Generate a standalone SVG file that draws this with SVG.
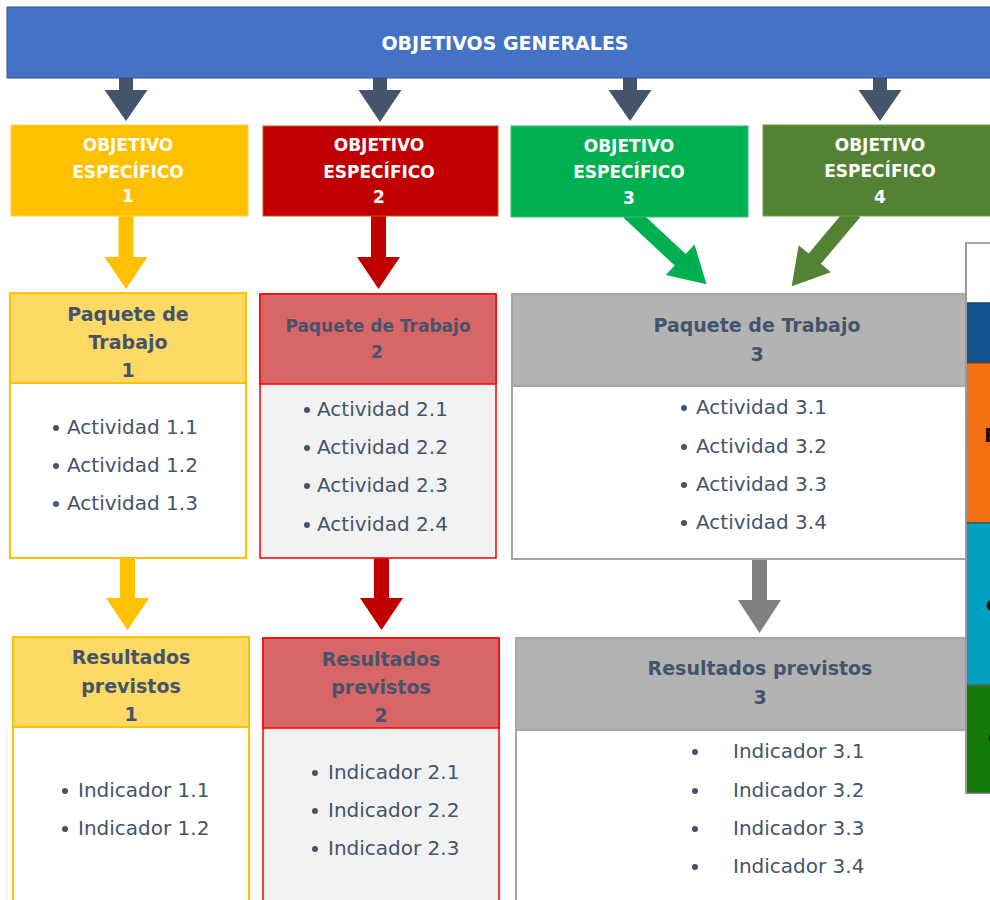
<svg xmlns="http://www.w3.org/2000/svg" width="990" height="900" viewBox="0 0 990 900">
<style>
.ot{font-family:"DejaVu Sans",Verdana,sans-serif;font-weight:bold;font-size:17px;fill:#ffffff;text-anchor:middle}
.ht{font-family:"DejaVu Sans",Verdana,sans-serif;font-weight:bold;font-size:19px;fill:#44546A;text-anchor:middle}
.it{font-family:"DejaVu Sans",Verdana,sans-serif;font-size:20px;fill:#44546A}
.bu{fill:#44546A}
.st{font-family:"DejaVu Sans",Verdana,sans-serif;font-weight:bold;font-size:20px;fill:#111111}
</style>
<rect width="990" height="900" fill="#ffffff"/>
<g id="connectors">
  <polygon fill="#44546A" points="119,77 133,77 133,90 147.5,90 126,121 104.5,90 119,90"/>
  <polygon fill="#44546A" points="373,77 387,77 387,90 401.5,90 380,122 358.5,90 373,90"/>
  <polygon fill="#44546A" points="623,77 637,77 637,90 651.5,90 630,121 608.5,90 623,90"/>
  <polygon fill="#44546A" points="873,77 887,77 887,90 901.5,90 880,121 858.5,90 873,90"/>
  <polygon fill="#FFC000" points="118.5,214 133.5,214 133.5,257 147.5,257 126,289 104.5,257 118.5,257"/>
  <polygon fill="#C00000" points="371,214 386,214 386,257 400,257 378.5,289 357,257 371,257"/>
  <g transform="translate(629,212) rotate(-47)"><polygon fill="#00B050" points="-8,0 8,0 8,70 21,70 0,106 -21,70 -8,70"/></g>
  <g transform="translate(854,212) rotate(40)"><polygon fill="#548235" points="-8,0 8,0 8,61 21,61 0,97 -21,61 -8,61"/></g>
  <polygon fill="#FFC000" points="120,556 135,556 135,598 149,598 127.5,630 106,598 120,598"/>
  <polygon fill="#C00000" points="374,556 389,556 389,598 403,598 381.5,630 360,598 374,598"/>
  <polygon fill="#808080" points="752,560 767,560 767,600 781,600 759.5,633 738,600 752,600"/>
</g>
<g id="banner">
  <rect x="7" y="7" width="990" height="71" fill="#4472C4" stroke="#2F528F" stroke-width="1"/>
  <text x="505" y="50" class="ot" style="font-size:19px">OBJETIVOS GENERALES</text>
</g>
<g id="oe1">
  <rect x="11" y="125" width="237" height="91" fill="#FFC000" stroke="#FFD24D" stroke-width="1"/>
  <text class="ot" x="128" y="151">OBJETIVO</text>
  <text class="ot" x="128" y="178">ESPECÍFICO</text>
  <text class="ot" x="128" y="202">1</text>
</g>
<g id="oe2">
  <rect x="263" y="126" width="235" height="90" fill="#C00000" stroke="#C55A11" stroke-width="1"/>
  <text class="ot" x="379" y="151">OBJETIVO</text>
  <text class="ot" x="379" y="178">ESPECÍFICO</text>
  <text class="ot" x="379" y="203">2</text>
</g>
<g id="oe3">
  <rect x="511" y="126" width="237" height="91" fill="#00B050" stroke="#33C073" stroke-width="1"/>
  <text class="ot" x="629" y="152">OBJETIVO</text>
  <text class="ot" x="629" y="178">ESPECÍFICO</text>
  <text class="ot" x="629" y="204">3</text>
</g>
<g id="oe4">
  <rect x="763" y="125" width="240" height="91" fill="#548235" stroke="#6E9A50" stroke-width="1"/>
  <text class="ot" x="880" y="151">OBJETIVO</text>
  <text class="ot" x="880" y="177">ESPECÍFICO</text>
  <text class="ot" x="880" y="203">4</text>
</g>
<g id="pt1">
  <rect x="10" y="293" width="236" height="265" fill="#ffffff" stroke="#FFC000" stroke-width="2"/>
  <rect x="10" y="293" width="236" height="90" fill="#FFD966" stroke="#FFC000" stroke-width="2"/>
  <text class="ht" x="128" y="321">Paquete de</text>
  <text class="ht" x="128" y="349">Trabajo</text>
  <text class="ht" x="128" y="377">1</text>
  <circle class="bu" cx="56" cy="428" r="3"/><text class="it" x="67" y="434">Actividad 1.1</text>
  <circle class="bu" cx="56" cy="466" r="3"/><text class="it" x="67" y="472">Actividad 1.2</text>
  <circle class="bu" cx="56" cy="504" r="3"/><text class="it" x="67" y="510">Actividad 1.3</text>
</g>
<g id="pt2">
  <rect x="260" y="294" width="236" height="264" fill="#F2F2F2" stroke="#FF0000" stroke-width="1.5"/>
  <rect x="260" y="294" width="236" height="90" fill="#D96666" stroke="#FF0000" stroke-width="1.5"/>
  <text class="ht" x="378" y="332" style="font-size:17px">Paquete de Trabajo</text>
  <text class="ht" x="377" y="358" style="font-size:17px">2</text>
  <circle class="bu" cx="307" cy="410" r="3"/><text class="it" x="317" y="416">Actividad 2.1</text>
  <circle class="bu" cx="307" cy="448" r="3"/><text class="it" x="317" y="454">Actividad 2.2</text>
  <circle class="bu" cx="307" cy="486" r="3"/><text class="it" x="317" y="492">Actividad 2.3</text>
  <circle class="bu" cx="307" cy="525" r="3"/><text class="it" x="317" y="531">Actividad 2.4</text>
</g>
<g id="pt3">
  <rect x="512" y="294" width="490" height="265" fill="#ffffff" stroke="#A5A5A5" stroke-width="2"/>
  <rect x="512" y="294" width="490" height="92" fill="#B3B3B3" stroke="#A5A5A5" stroke-width="2"/>
  <text class="ht" x="757" y="332">Paquete de Trabajo</text>
  <text class="ht" x="757" y="361">3</text>
  <circle class="bu" cx="684" cy="408" r="3"/><text class="it" x="696" y="414">Actividad 3.1</text>
  <circle class="bu" cx="684" cy="447" r="3"/><text class="it" x="696" y="453">Actividad 3.2</text>
  <circle class="bu" cx="684" cy="485" r="3"/><text class="it" x="696" y="491">Actividad 3.3</text>
  <circle class="bu" cx="684" cy="523" r="3"/><text class="it" x="696" y="529">Actividad 3.4</text>
</g>
<g id="rp1">
  <rect x="13" y="637" width="236" height="290" fill="#ffffff" stroke="#FFC000" stroke-width="2"/>
  <rect x="13" y="637" width="236" height="90" fill="#FFD966" stroke="#FFC000" stroke-width="2"/>
  <text class="ht" x="131" y="664">Resultados</text>
  <text class="ht" x="131" y="693">previstos</text>
  <text class="ht" x="131" y="721">1</text>
  <circle class="bu" cx="65" cy="791" r="3"/><text class="it" x="78" y="797">Indicador 1.1</text>
  <circle class="bu" cx="65" cy="829" r="3"/><text class="it" x="78" y="835">Indicador 1.2</text>
</g>
<g id="rp2">
  <rect x="263" y="638" width="236" height="290" fill="#F2F2F2" stroke="#FF0000" stroke-width="1.5"/>
  <rect x="263" y="638" width="236" height="90" fill="#D96666" stroke="#FF0000" stroke-width="1.5"/>
  <text class="ht" x="381" y="666">Resultados</text>
  <text class="ht" x="381" y="694">previstos</text>
  <text class="ht" x="381" y="722">2</text>
  <circle class="bu" cx="315" cy="773" r="3"/><text class="it" x="328" y="779">Indicador 2.1</text>
  <circle class="bu" cx="315" cy="811" r="3"/><text class="it" x="328" y="817">Indicador 2.2</text>
  <circle class="bu" cx="315" cy="849" r="3"/><text class="it" x="328" y="855">Indicador 2.3</text>
</g>
<g id="rp3">
  <rect x="516" y="638" width="490" height="290" fill="#ffffff" stroke="#A5A5A5" stroke-width="2"/>
  <rect x="516" y="638" width="490" height="92" fill="#B3B3B3" stroke="#A5A5A5" stroke-width="2"/>
  <text class="ht" x="760" y="675">Resultados previstos</text>
  <text class="ht" x="760" y="704">3</text>
  <circle class="bu" cx="695" cy="752" r="3"/><text class="it" x="733" y="758">Indicador 3.1</text>
  <circle class="bu" cx="695" cy="791" r="3"/><text class="it" x="733" y="797">Indicador 3.2</text>
  <circle class="bu" cx="695" cy="829" r="3"/><text class="it" x="733" y="835">Indicador 3.3</text>
  <circle class="bu" cx="695" cy="867" r="3"/><text class="it" x="733" y="873">Indicador 3.4</text>
</g>
<g id="side-table">
  <rect x="966" y="243" width="40" height="60" fill="#ffffff" stroke="#A6A6A6" stroke-width="2"/>
  <rect x="966" y="303" width="40" height="60" fill="#15508F" stroke="#0E3A6B" stroke-width="1"/>
  <rect x="966" y="363" width="40" height="160" fill="#F37012" stroke="#8A3F0A" stroke-width="1"/>
  <rect x="966" y="523" width="40" height="162" fill="#00A0C0" stroke="#00566A" stroke-width="1"/>
  <rect x="966" y="685" width="40" height="108" fill="#147A08" stroke="#666666" stroke-width="1.5"/>
  <line x1="966" y1="243" x2="966" y2="793" stroke="#9A9A9A" stroke-width="2"/>
  <text class="st" x="984" y="442">P</text>
  <text class="st" x="986" y="611">c</text>
  <text class="st" x="988" y="744">c</text>
</g>
</svg>
